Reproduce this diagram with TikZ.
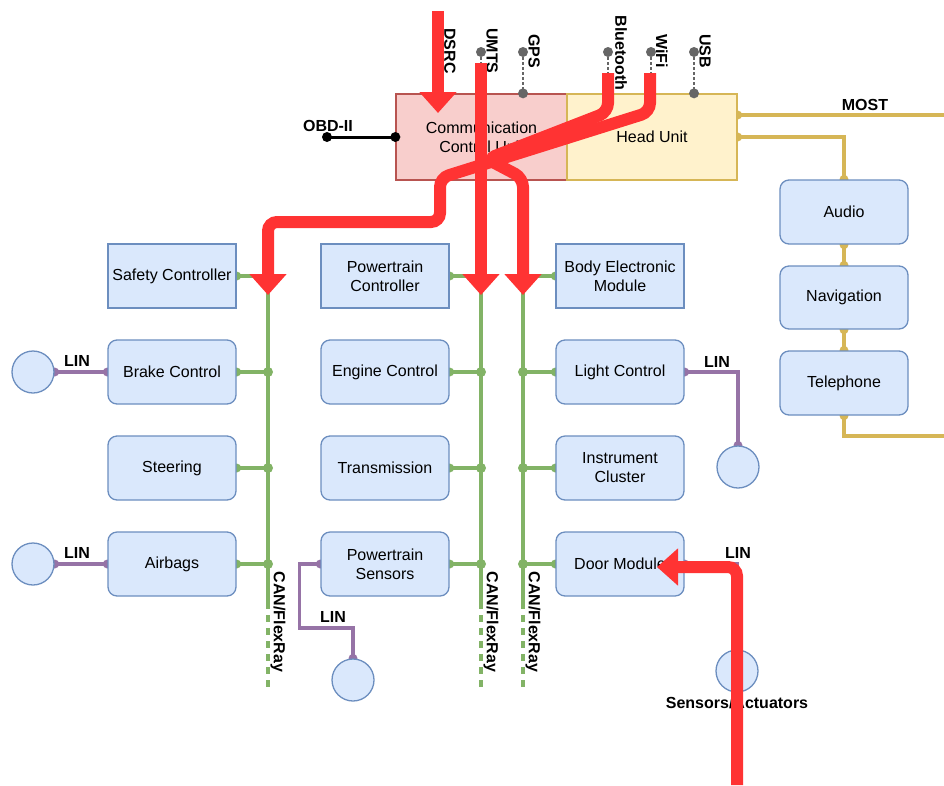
\documentclass[tikz,border=0pt]{standalone}
\usepackage{fontspec}
\setmainfont{Liberation Sans}
\usetikzlibrary{arrows.meta}

\definecolor{ecufill}{HTML}{DAE8FC}
\definecolor{eculine}{HTML}{6C8EBF}
\definecolor{ccufill}{HTML}{F8CECC}
\definecolor{cculine}{HTML}{B85450}
\definecolor{hufill}{HTML}{FFF2CC}
\definecolor{huline}{HTML}{D6B656}
\definecolor{cangreen}{HTML}{82B366}
\definecolor{linpurple}{HTML}{9673A6}
\definecolor{ifgray}{HTML}{666666}
\definecolor{flowred}{HTML}{FF3333}

\pgfdeclarelayer{bg}
\pgfsetlayers{bg,main}

\tikzset{
  txt/.style={font=\fontsize{16}{19}\selectfont},
  lbl/.style={font=\bfseries\fontsize{16}{19}\selectfont, inner sep=0pt},
  ecu/.style={txt, draw=eculine, fill=ecufill, line width=1.3pt,
    minimum width=128pt, minimum height=64pt, align=center, inner sep=0pt},
  ecur/.style={ecu, rounded corners=9pt},
  sensor/.style={circle, draw=eculine, fill=ecufill, line width=1.3pt,
    minimum size=42pt, inner sep=0pt},
  can/.style={draw=cangreen, line width=3.2pt},
  lin/.style={draw=linpurple, line width=3.2pt},
  most/.style={draw=huline, line width=3.2pt},
  iface/.style={draw=ifgray, line width=2.8pt, dash pattern=on 2.5pt off 2.5pt},
  flow/.style={draw=flowred, line width=12pt, rounded corners=9pt,
    -{Triangle[width=36pt 0 0, length=21pt 0 0]}},
}

\begin{document}
\begin{tikzpicture}[x=1pt,y=-1pt]
\useasboundingbox (0,0) rectangle (944,785);

% --- gateway and head unit ---
\node[txt, draw=cculine, fill=ccufill, line width=1.3pt, minimum width=171pt,
  minimum height=86pt, align=center, inner sep=0pt] (ccu) at (481.5,137)
  {Communication\\Control Unit};
\node[txt, draw=huline, fill=hufill, line width=1.3pt, minimum width=170pt,
  minimum height=86pt, inner sep=0pt] (hu) at (652,137) {Head Unit};

% --- left domain ---
\node[ecu]  (sc) at (172,276) {Safety Controller};
\node[ecur] (bc) at (172,372) {Brake Control};
\node[ecur] (st) at (172,468) {Steering};
\node[ecur] (ab) at (172,564) {Airbags};

% --- powertrain domain ---
\node[ecu]  (pc) at (385,276) {Powertrain\\Controller};
\node[ecur] (ec) at (385,372) {Engine Control};
\node[ecur] (tr) at (385,468) {Transmission};
\node[ecur] (ps) at (385,564) {Powertrain\\Sensors};

% --- body domain ---
\node[ecu]  (bem) at (620,276) {Body Electronic\\Module};
\node[ecur] (lc)  at (620,372) {Light Control};
\node[ecur] (ic)  at (620,468) {Instrument\\Cluster};
\node[ecur] (dm)  at (620,564) {Door Module};

% --- infotainment ---
\node[ecur] (aud) at (844,212) {Audio};
\node[ecur, minimum height=63pt] (nav) at (844,297.5) {Navigation};
\node[ecur] (tel) at (844,383) {Telephone};

% --- LIN sensors ---
\node[sensor] (s1) at (33,372) {};
\node[sensor] (s2) at (33,564) {};
\node[sensor] (s3) at (353,680) {};
\node[sensor] (s4) at (738,467) {};
\node[sensor] (s5) at (737,671) {};

% --- bus backbones ---
\coordinate (busL) at (268,276);
\coordinate (busM) at (481,276);
\coordinate (busR) at (523,276);
\coordinate (busLe) at (268,602);
\coordinate (busMe) at (481,602);
\coordinate (busRe) at (523,602);
\coordinate (busLd) at (268,692);
\coordinate (busMd) at (481,692);
\coordinate (busRd) at (523,692);

% --- external interfaces ---
\coordinate (dsrc) at (438,11);
\coordinate (umts) at (481,52);
\coordinate (gps)  at (523,52);
\coordinate (bt)   at (608,52);
\coordinate (wifi) at (651,52);
\coordinate (usb)  at (694,52);
\coordinate (obd)  at (327,137);

\begin{pgfonlayer}{bg}
  % CAN / FlexRay buses
  \foreach \b in {L,M,R} {
    \draw[can] (bus\b) -- (bus\b e);
    \draw[can, dash pattern=on 7pt off 6pt] (bus\b e) -- (bus\b d);
  }
  \foreach \n in {sc,bc,st,ab} {
    \draw[can] (\n.east) -- (\n.east -| busL);
    \fill[cangreen] (\n.east) circle (4.5pt);
  }
  \foreach \n in {pc,ec,tr,ps} {
    \draw[can] (\n.east) -- (\n.east -| busM);
    \fill[cangreen] (\n.east) circle (4.5pt);
  }
  \foreach \n in {bem,lc,ic,dm} {
    \draw[can] (\n.west) -- (\n.west -| busR);
    \fill[cangreen] (\n.west) circle (4.5pt);
  }
  \foreach \n in {bc,st,ab} \fill[cangreen] (\n.east -| busL) circle (5pt);
  \foreach \n in {ec,tr,ps} \fill[cangreen] (\n.east -| busM) circle (5pt);
  \foreach \n in {lc,ic,dm} \fill[cangreen] (\n.west -| busR) circle (5pt);

  % LIN links
  \draw[lin] (bc.west) -- (s1.east);
  \draw[lin] (ab.west) -- (s2.east);
  \draw[lin] (ps.west) -- ++(-21,0) |- (300,628) -| (s3.north);
  \draw[lin] (lc.east) -| (s4.north);
  \draw[lin] (dm.east) -| (s5.north);
  \foreach \p in {bc.west,s1.east,ab.west,s2.east,ps.west,s3.north,lc.east,s4.north,dm.east,s5.north}
    \fill[linpurple] (\p) circle (4.5pt);

  % MOST ring
  \draw[most] (hu.east |- 0,115) -- (944,115);
  \draw[most] (hu.east |- 0,137) -| (aud.north);
  \draw[most] (aud.south) -- (nav.north);
  \draw[most] (nav.south) -- (tel.north);
  \draw[most] (tel.south) |- (944,436);
  \foreach \p in {aud.north,aud.south,nav.north,nav.south,tel.north,tel.south}
    \fill[huline] (\p) circle (4.5pt);
  \fill[huline] (hu.east |- 0,115) circle (4.5pt);
  \fill[huline] (hu.east |- 0,137) circle (4.5pt);
\end{pgfonlayer}

% interface stubs
\foreach \i in {umts,gps,bt,wifi,usb} {
  \draw[iface] (\i) -- (\i |- ccu.north);
  \fill[ifgray] (\i) circle (5pt);
  \fill[ifgray] (\i |- ccu.north) circle (5pt);
}
% OBD-II port
\draw[line width=3pt] (obd) -- (ccu.west);
\fill (obd) circle (5pt);
\fill (ccu.west) circle (5pt);

% --- labels ---
\node[lbl] (lobd) at (328,126) {OBD-II};
\node[lbl] (lmost) at (865,105) {MOST};
\node[lbl] (llin1) at (77,361) {LIN};
\node[lbl] (llin2) at (77,553) {LIN};
\node[lbl] (llin3) at (333,617) {LIN};
\node[lbl] (llin4) at (717,362) {LIN};
\node[lbl] (llin5) at (738,553) {LIN};
\node[lbl] (lsa) at (737,703) {Sensors/Actuators};
\node[lbl, rotate=-90] (lcanL) at (278,622) {CAN/FlexRay};
\node[lbl, rotate=-90] (lcanM) at (491,622) {CAN/FlexRay};
\node[lbl, rotate=-90] (lcanR) at (533,622) {CAN/FlexRay};
\node[lbl, rotate=-90] (ldsrc) at (450,51) {DSRC};
\node[lbl, rotate=-90] (lumts) at (492,51) {UMTS};
\node[lbl, rotate=-90] (lgps)  at (534,51) {GPS};
\node[lbl, rotate=-90] (lbt)   at (621,53) {Bluetooth};
\node[lbl, rotate=-90] (lwifi) at (662,51) {WiFi};
\node[lbl, rotate=-90] (lusb)  at (705,51) {USB};

% --- highlighted data flows ---
\coordinate (tipL) at (268,295);
\coordinate (tipM) at (481,295);
\coordinate (tipR) at (523,295);
\coordinate (tipD) at (657,567);
\coordinate (tipC) at (438,113);
\coordinate (srcD) at (737,785);
\draw[flow] (dsrc) -- (tipC);
\draw[flow] (481,63) -- (tipM);
\draw[flow] (650,73) -- (650,112) -- (440,178) -- (440,222) -- (268,222) -- (tipL);
\draw[flow] (608,73) -- (608,112) -- (487,159) -- (523,178) -- (tipR);
\draw[flow] (srcD) -- (737,567) -- (tipD);
\end{tikzpicture}
\end{document}
